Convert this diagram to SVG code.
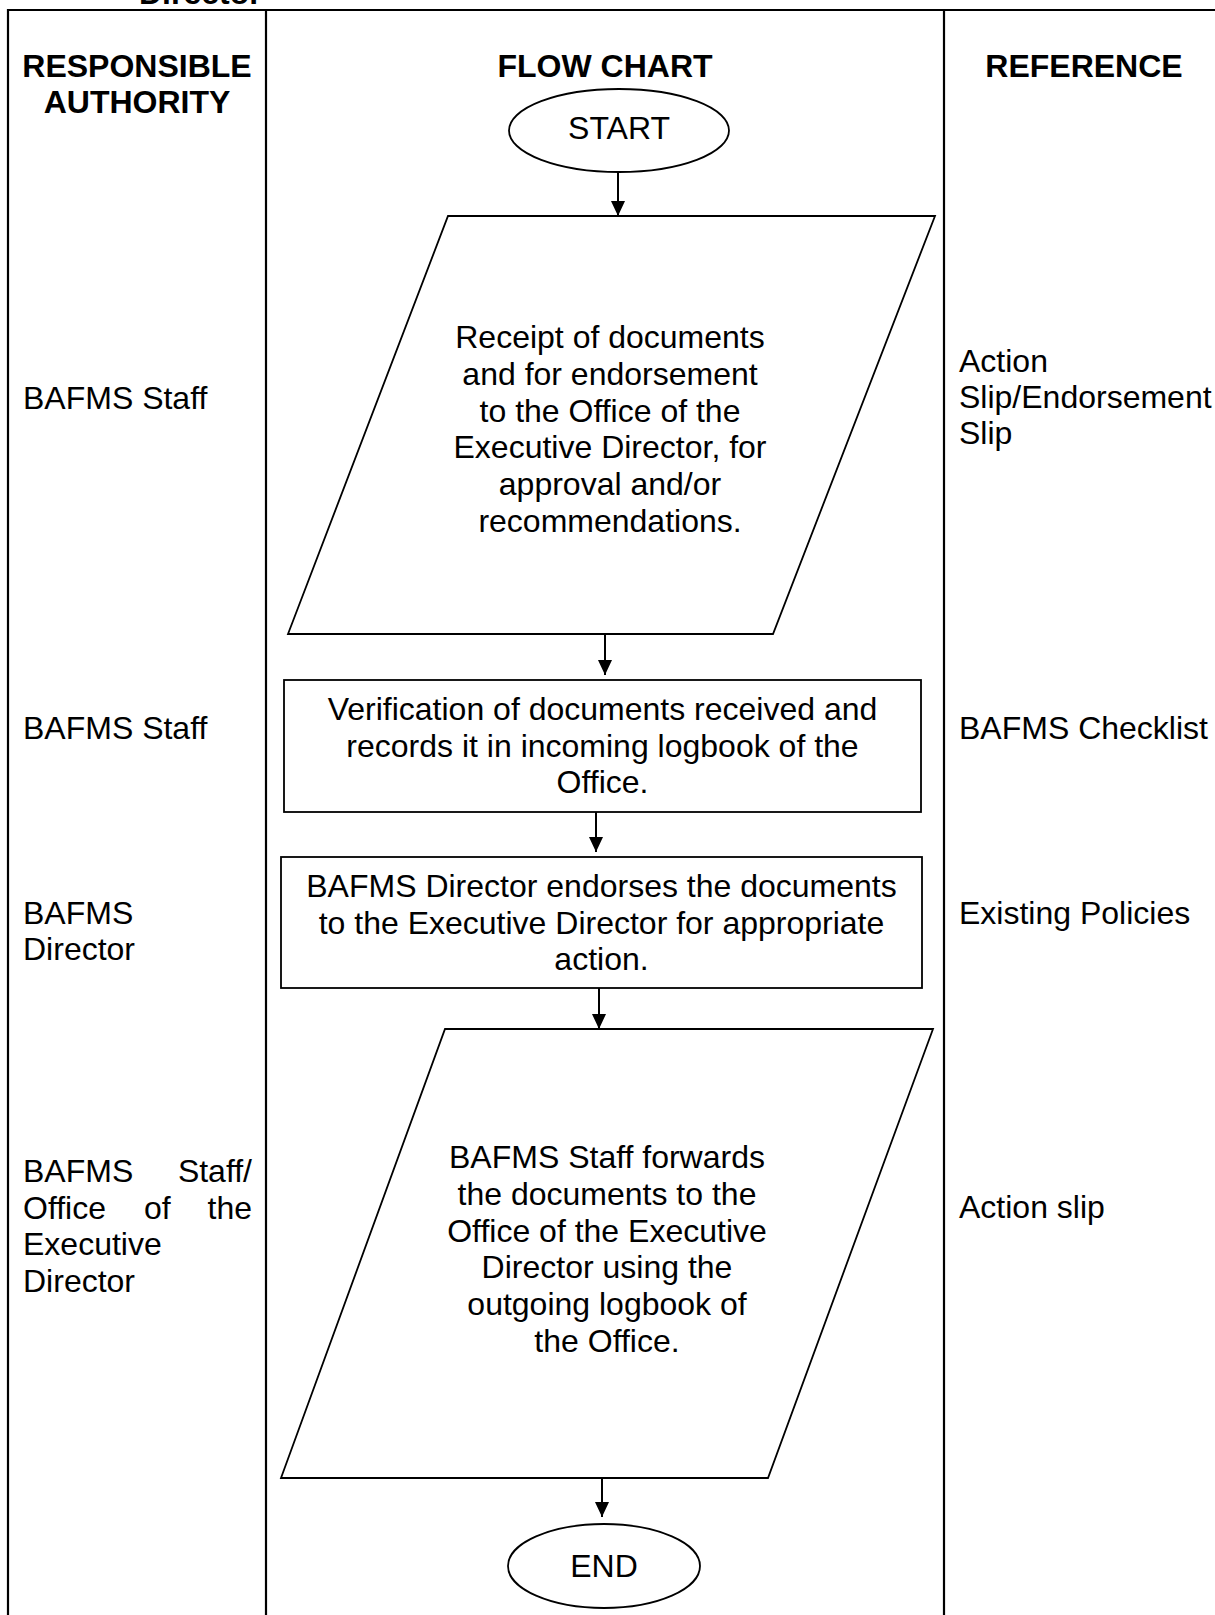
<svg xmlns="http://www.w3.org/2000/svg" width="1215" height="1615" viewBox="0 0 1215 1615">
  <style>
    text { font-family: "Liberation Sans", Arial, sans-serif; font-size: 32px; fill: #000; }
    .h { font-weight: bold; }
    .c { text-anchor: middle; }
    .grid { stroke: #000; stroke-width: 2.2; fill: none; }
    .shape { stroke: #000; stroke-width: 1.8; fill: #fff; }
    .conn { stroke: #000; stroke-width: 2; fill: none; }
  </style>
  <defs>
    <marker id="arr" markerUnits="userSpaceOnUse" markerWidth="16" markerHeight="16" refX="15" refY="7" orient="auto">
      <path d="M0,0 L15,7 L0,14 Z" fill="#000"/>
    </marker>
  </defs>
  <rect width="1215" height="1615" fill="#fff"/>

  <g id="table">
    <text class="h" x="139" y="4">Director</text>
    <line class="grid" x1="8" y1="10" x2="1215" y2="10"/>
    <line class="grid" x1="8" y1="9" x2="8" y2="1615"/>
    <line class="grid" x1="266" y1="10" x2="266" y2="1615"/>
    <line class="grid" x1="944" y1="10" x2="944" y2="1615"/>
    <text class="h c" x="137" y="77">RESPONSIBLE</text>
    <text class="h c" x="137" y="113">AUTHORITY</text>
    <text class="h c" x="605" y="77">FLOW CHART</text>
    <text class="h c" x="1084" y="77">REFERENCE</text>
  </g>

  <g id="authority">
    <text x="23" y="409">BAFMS Staff</text>
    <text x="23" y="739">BAFMS Staff</text>
    <text x="23" y="924">BAFMS</text>
    <text x="23" y="960">Director</text>
    <text x="23" y="1182">BAFMS</text>
    <text x="252" y="1182" text-anchor="end">Staff/</text>
    <text x="23" y="1219">Office</text>
    <text x="144" y="1219">of</text>
    <text x="252" y="1219" text-anchor="end">the</text>
    <text x="23" y="1255">Executive</text>
    <text x="23" y="1292">Director</text>
  </g>

  <g id="reference">
    <text x="959" y="372">Action</text>
    <text x="959" y="408">Slip/Endorsement</text>
    <text x="959" y="444">Slip</text>
    <text x="959" y="739">BAFMS Checklist</text>
    <text x="959" y="924">Existing Policies</text>
    <text x="959" y="1218">Action slip</text>
  </g>

  <g id="connectors">
    <line class="conn" x1="618" y1="172" x2="618" y2="216" marker-end="url(#arr)"/>
    <line class="conn" x1="605" y1="634" x2="605" y2="675" marker-end="url(#arr)"/>
    <line class="conn" x1="596" y1="812" x2="596" y2="852" marker-end="url(#arr)"/>
    <line class="conn" x1="599" y1="988" x2="599" y2="1029" marker-end="url(#arr)"/>
    <line class="conn" x1="602" y1="1478" x2="602" y2="1517" marker-end="url(#arr)"/>
  </g>

  <g id="start">
    <ellipse class="shape" cx="619" cy="130.5" rx="110" ry="41.5" stroke-width="2"/>
    <text class="c" x="619" y="139">START</text>
  </g>

  <g id="receipt">
    <polygon class="shape" points="448,216 935,216 773,634 288,634"/>
    <text class="c" x="610" y="348">Receipt of documents</text>
    <text class="c" x="610" y="385">and for endorsement</text>
    <text class="c" x="610" y="422">to the Office of the</text>
    <text class="c" x="610" y="458">Executive Director, for</text>
    <text class="c" x="610" y="495">approval and/or</text>
    <text class="c" x="610" y="532">recommendations.</text>
  </g>

  <g id="verification">
    <rect class="shape" x="284" y="680" width="637" height="132"/>
    <text class="c" x="602.5" y="720">Verification of documents received and</text>
    <text class="c" x="602.5" y="757">records it in incoming logbook of the</text>
    <text class="c" x="602.5" y="793">Office.</text>
  </g>

  <g id="endorse">
    <rect class="shape" x="281" y="857" width="641" height="131"/>
    <text class="c" x="601.5" y="897">BAFMS Director endorses the documents</text>
    <text class="c" x="601.5" y="934">to the Executive Director for appropriate</text>
    <text class="c" x="601.5" y="970">action.</text>
  </g>

  <g id="forward">
    <polygon class="shape" points="445,1029 933,1029 768,1478 281,1478"/>
    <text class="c" x="607" y="1168">BAFMS Staff forwards</text>
    <text class="c" x="607" y="1205">the documents to the</text>
    <text class="c" x="607" y="1242">Office of the Executive</text>
    <text class="c" x="607" y="1278">Director using the</text>
    <text class="c" x="607" y="1315">outgoing logbook of</text>
    <text class="c" x="607" y="1352">the Office.</text>
  </g>

  <g id="end">
    <ellipse class="shape" cx="604" cy="1566" rx="96" ry="42" stroke-width="2"/>
    <text class="c" x="604" y="1577">END</text>
  </g>
</svg>
